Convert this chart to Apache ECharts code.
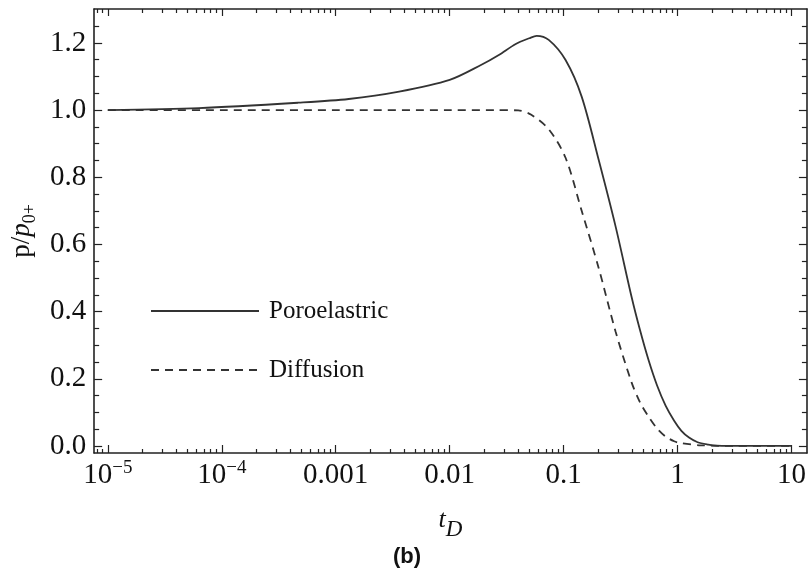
<!DOCTYPE html>
<html>
<head>
<meta charset="utf-8">
<script src="https://cdn.jsdelivr.net/npm/echarts@6/dist/echarts.min.js"></script>
<style>
  html, body { margin: 0; padding: 0; background: #ffffff; }
  #chart { width: 809px; height: 571px; }
</style>
</head>
<body>
<div id="chart"></div>
<script>
// ---- data ----
const seriesNames = ['Poroelastric', 'Diffusion'];

// Poroelastic: dimensionless time t_D and p/p0+
const poroT = [1e-5, 6.3e-5, 4.7e-4, 1.3e-3, 3.6e-3, 0.01, 0.019, 0.027, 0.038, 0.050, 0.058, 0.074, 0.104, 0.144, 0.203, 0.286, 0.394, 0.468, 0.557, 0.661, 0.785, 0.933, 1.08, 1.26, 1.5, 1.86, 2.2, 4, 10];
const poroP = [1.000, 1.006, 1.022, 1.033, 1.055, 1.090, 1.135, 1.164, 1.197, 1.214, 1.221, 1.209, 1.149, 1.040, 0.852, 0.653, 0.445, 0.345, 0.255, 0.180, 0.120, 0.075, 0.045, 0.025, 0.011, 0.004, 0.001, 0.000, 0.000];

// Diffusion
const diffT = [1e-5, 1e-4, 1e-3, 0.01, 0.025, 0.040, 0.052, 0.074, 0.104, 0.144, 0.203, 0.286, 0.394, 0.468, 0.557, 0.661, 0.785, 0.933, 1.08, 1.6, 3.2, 10];
const diffP = [1.000, 1.000, 1.000, 1.000, 1.000, 0.999, 0.986, 0.943, 0.858, 0.700, 0.530, 0.340, 0.190, 0.130, 0.087, 0.052, 0.028, 0.014, 0.008, 0.002, 0.000, 0.000];

// tick labels
const xTickExp = [-5, -4, -3, -2, -1, 0, 1];
const xTickText = ['10^\u22125', '10^\u22124', '0.001', '0.01', '0.1', '1', '10'];
const yTicks = [0, 0.2, 0.4, 0.6, 0.8, 1.0, 1.2];
const yTickText = ['0.0', '0.2', '0.4', '0.6', '0.8', '1.0', '1.2'];

// ---- build ----
const X_MIN = -5.12, X_MAX = 1.135, Y_MIN = -0.021, Y_MAX = 1.301;
const SERIF = '"Liberation Serif", "Times New Roman", serif';
const FRAME = '#222';

const xMinor = [];
for (let n = -6; n <= 1; n++) {
  for (let k = 2; k <= 9; k++) {
    const v = n + Math.log10(k);
    if (v > X_MIN && v < X_MAX) xMinor.push(v);
  }
}
const yMinor = [];
for (let i = 1; i <= 25; i++) {
  if (i % 4 !== 0) yMinor.push(i * 0.05);
}

function xLabel(v) {
  const idx = xTickExp.indexOf(Math.round(v));
  const s = xTickText[idx];
  if (s.indexOf('^') >= 0) {
    const parts = s.split('^');
    return '{b|' + parts[0] + '}{s|' + parts[1] + '}';
  }
  return '{b|' + s + '}';
}
function yLabel(v) {
  let best = 0;
  yTicks.forEach((t, i) => { if (Math.abs(t - v) < Math.abs(yTicks[best] - v)) best = i; });
  return yTickText[best];
}

function xAx(pos, minor, withLine, withLabels, len) {
  return {
    type: 'value', position: pos, min: X_MIN, max: X_MAX,
    axisLine: { show: withLine, onZero: false, lineStyle: { color: FRAME, width: 1.6 } },
    axisTick: { show: true, inside: true, length: len, customValues: minor ? xMinor : xTickExp,
                lineStyle: { color: FRAME, width: 1.2 } },
    axisLabel: withLabels ? {
      show: true, customValues: xTickExp, margin: 6, formatter: xLabel,
      rich: {
        b: { fontFamily: SERIF, fontSize: 29, color: '#111', lineHeight: 32, verticalAlign: 'top', padding: [2, 0, 0, 0] },
        s: { fontFamily: SERIF, fontSize: 19, color: '#111', lineHeight: 20, verticalAlign: 'top' }
      }
    } : { show: false },
    splitLine: { show: false }
  };
}
function yAx(pos, minor, withLine, withLabels, len) {
  return {
    type: 'value', position: pos, min: Y_MIN, max: Y_MAX,
    axisLine: { show: withLine, onZero: false, lineStyle: { color: FRAME, width: 1.6 } },
    axisTick: { show: true, inside: true, length: len, customValues: minor ? yMinor : yTicks,
                lineStyle: { color: FRAME, width: 1.2 } },
    axisLabel: withLabels ? {
      show: true, customValues: yTicks, margin: 8, formatter: yLabel,
      fontFamily: SERIF, fontSize: 29, color: '#111'
    } : { show: false },
    splitLine: { show: false }
  };
}

const xAxes = [
  xAx('bottom', false, true, true, 8),
  xAx('bottom', true, false, false, 4),
  xAx('top', false, true, false, 7),
  xAx('top', true, false, false, 4)
];
xAxes[0].name = '{t|t}{d|D}';
xAxes[0].nameLocation = 'middle';
xAxes[0].nameGap = 54;
xAxes[0].nameTextStyle = {
  rich: {
    t: { fontFamily: SERIF, fontStyle: 'italic', fontSize: 26, color: '#111', lineHeight: 26, verticalAlign: 'top' },
    d: { fontFamily: SERIF, fontStyle: 'italic', fontSize: 23, color: '#111', lineHeight: 23, verticalAlign: 'top', padding: [11, 0, 0, 0] }
  }
};

const yAxes = [
  yAx('left', false, true, true, 8),
  yAx('left', true, false, false, 5),
  yAx('right', false, true, false, 8),
  yAx('right', true, false, false, 5)
];
yAxes[0].name = '{a|p/}{b|p}{c|0+}';
yAxes[0].nameLocation = 'middle';
yAxes[0].nameRotate = 90;
yAxes[0].nameGap = 55;
yAxes[0].nameTextStyle = {
  rich: {
    a: { fontFamily: SERIF, fontSize: 27, color: '#111', lineHeight: 30, verticalAlign: 'top' },
    b: { fontFamily: SERIF, fontStyle: 'italic', fontSize: 27, color: '#111', lineHeight: 30, verticalAlign: 'top' },
    c: { fontFamily: SERIF, fontSize: 18, color: '#111', lineHeight: 20, verticalAlign: 'top', padding: [13, 0, 0, 0] }
  }
};

const toPts = (ts, ps) => ts.map((t, i) => [Math.log10(t), ps[i]]);

const option = {
  animation: false,
  backgroundColor: '#ffffff',
  title: {
    text: '(b)', left: 388, top: 541,
    textStyle: { fontFamily: '"Liberation Sans", Arial, sans-serif', fontWeight: 'bold', fontSize: 22, color: '#111' }
  },
  grid: { left: 93, right: 1, top: 9, bottom: 118, containLabel: false },
  legend: {
    orient: 'vertical', left: 145, top: 291,
    itemWidth: 108, itemHeight: 14, itemGap: 29,
    data: seriesNames,
    itemStyle: { opacity: 0 },
    textStyle: { fontFamily: SERIF, fontSize: 25, color: '#111', lineHeight: 30, padding: [0, 0, 0, 5] }
  },
  xAxis: xAxes,
  yAxis: yAxes,
  series: [
    {
      name: seriesNames[0], type: 'line', xAxisIndex: 0, yAxisIndex: 0,
      data: toPts(poroT, poroP), symbol: 'none', smooth: 0.3,
      lineStyle: { color: '#333', width: 1.8, type: 'solid' }, itemStyle: { color: '#333' }
    },
    {
      name: seriesNames[1], type: 'line', xAxisIndex: 0, yAxisIndex: 0,
      data: toPts(diffT, diffP), symbol: 'none', smooth: 0.3,
      lineStyle: { color: '#333', width: 1.8, type: [8, 6] }, itemStyle: { color: '#333' }
    }
  ]
};

const chart = echarts.init(document.getElementById('chart'), null, { renderer: 'canvas' });
chart.setOption(option);
</script>
</body>
</html>
